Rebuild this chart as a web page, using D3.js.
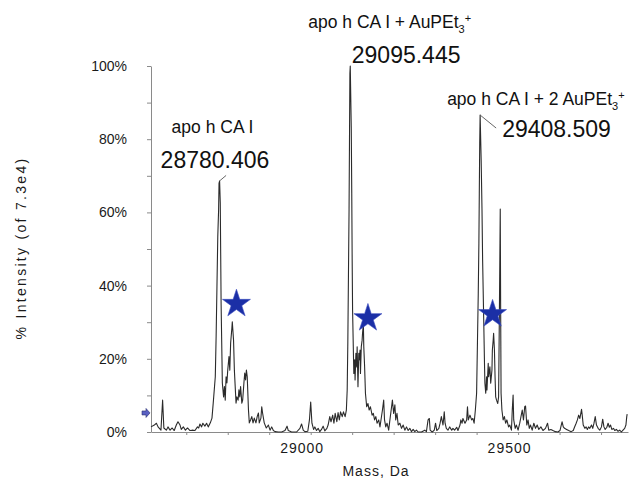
<!DOCTYPE html>
<html>
<head>
<meta charset="utf-8">
<script src="https://cdn.jsdelivr.net/npm/d3@7"></script>
<style>
  html, body { margin: 0; padding: 0; background: #fff; }
  svg { display: block; font-family: "Liberation Sans", Arial, Helvetica, sans-serif; }
</style>
</head>
<body>
<div id="chart"></div>
<script>
// deconvoluted spectrum, [mass (Da), % intensity]
const spectrum = [
  [28615, 1.4], [28623, 1.9], [28628, 2.4], [28632, 1.4], [28639, 0.5], [28643, 8.7], [28646, 1.1],
  [28652, 0.5], [28656, 1.4], [28661, 0.5], [28666, 1.1], [28671, 0.4], [28676, 1.9], [28680, 2.8],
  [28685, 1.9], [28688, 0.7], [28693, 1.4], [28698, 0.5], [28703, 1.1], [28709, 0.4], [28714, 0.5],
  [28721, 0.4], [28727, 1.4], [28730, 1.1], [28733, 2.2], [28737, 1.4], [28740, 2.4], [28745, 1.6],
  [28749, 2.4], [28753, 1.4], [28758, 2.5], [28762, 3.8], [28765, 7.9], [28770, 15.1], [28772, 26.0],
  [28774, 39.7], [28776, 53.4], [28778, 60.7], [28779, 67.9], [28780.4, 68.6], [28782, 62.6],
  [28783, 48.9], [28784, 35.2], [28786, 20.6], [28787, 13.4], [28790, 9.6], [28792, 12.4], [28794, 8.7],
  [28796, 15.1], [28798, 13.4], [28800, 16.9], [28803, 20.6], [28805, 16.9], [28807, 24.3], [28810, 28.4],
  [28811, 30.1], [28814, 25.1], [28816, 16.9], [28818, 12.4], [28820, 7.9], [28822, 9.6], [28825, 8.7],
  [28827, 11.5], [28829, 9.6], [28831, 12.4], [28834, 7.9], [28836, 8.7], [28839, 13.4], [28841, 16.1],
  [28843, 14.2], [28845, 16.9], [28847, 15.1], [28850, 6.0], [28852, 2.5], [28855, 3.3], [28858, 4.2],
  [28861, 2.5], [28864, 3.8], [28868, 2.5], [28871, 4.2], [28874, 5.2], [28876, 2.5], [28880, 3.8],
  [28882, 6.9], [28884, 5.2], [28888, 2.5], [28893, 1.1], [28898, 1.9], [28902, 0.5], [28906, 1.4],
  [28910, 0.4], [28914, 0.1], [28922, 0], [28930, 0], [28938, 0.4], [28943, 1.6], [28946, 0.4],
  [28954, 0], [28966, 0], [28974, 1.0], [28978, 2.2], [28982, 0.5], [28986, 0.1], [28993, 0.2],
  [28997, 3.3], [29000, 8.2], [29003, 2.4], [29007, 0.7], [29010, 1.4], [29014, 0.4], [29018, 1.0],
  [29022, 0.1], [29026, 0.7], [29030, 1.6], [29034, 0.3], [29039, 1.0], [29042, 1.9], [29046, 4.2],
  [29049, 2.8], [29053, 4.6], [29056, 2.4], [29059, 5.1], [29063, 2.8], [29066, 5.3], [29069, 3.3],
  [29072, 5.5], [29076, 4.2], [29079, 5.5], [29083, 4.2], [29086, 6.0], [29088, 11.5], [29089.5, 24.2],
  [29091, 42.4], [29092.5, 60.7], [29093.5, 78.9], [29094.5, 98.0], [29095.4, 100], [29097.8, 83.4],
  [29099, 65.2], [29100, 47.0], [29101, 33.3], [29103, 21.5], [29104, 16.0], [29106, 19.7], [29107, 14.2],
  [29109, 21.5], [29111, 17.8], [29112, 23.3], [29114, 12.4], [29116, 21.5], [29117, 19.7], [29119, 22.4],
  [29120, 16.0], [29122, 23.3], [29124, 25.1], [29125, 27.0], [29127, 29.5], [29128, 23.3], [29130, 17.8],
  [29132, 10.6], [29135, 6.9], [29138, 7.8], [29141, 6.0], [29144, 6.9], [29148, 4.6], [29151, 5.1],
  [29154, 3.3], [29157, 4.2], [29160, 2.4], [29164, 3.3], [29167, 1.4], [29170, 3.7], [29173, 6.0],
  [29176, 8.7], [29178, 3.3], [29181, 1.4], [29184, 2.4], [29188, 0.5], [29191, 3.3], [29195, 6.9],
  [29197, 8.7], [29200, 5.1], [29203, 7.4], [29205, 3.3], [29208, 5.1], [29211, 1.9], [29215, 2.4],
  [29219, 1.0], [29223, 1.9], [29227, 0.5], [29231, 1.4], [29235, 0.4], [29239, 1.0], [29243, 0.1],
  [29247, 0.7], [29251, 0.1], [29255, 0.5], [29259, 0], [29267, 0], [29275, 0.5], [29279, 0.1],
  [29283, 3.3], [29286, 3.7], [29288, 0.5], [29293, 0], [29298, 0.5], [29301, 2.4], [29304, 0.4],
  [29309, 1.0], [29312, 2.4], [29315, 4.2], [29319, 1.9], [29322, 5.5], [29324, 2.4], [29327, 1.0],
  [29331, 0.5], [29335, 1.4], [29340, 0.5], [29343, 1.0], [29347, 0.5], [29352, 1.3], [29355, 0.4],
  [29360, 1.9], [29362, 3.3], [29365, 2.4], [29367, 3.7], [29372, 2.4], [29376, 3.3], [29378, 6.9],
  [29380, 3.3], [29384, 4.6], [29388, 3.3], [29391, 3.7], [29394, 2.4], [29397, 6.0], [29400, 10.6],
  [29402, 24.2], [29404, 37.9], [29405.5, 51.6], [29406.5, 65.2], [29407.5, 78.9], [29408.5, 86.6],
  [29411, 74.3], [29413, 60.7], [29414.5, 47.0], [29417, 31.5], [29419, 18.8], [29420, 13.3],
  [29422, 10.6], [29424, 15.1], [29425, 11.5], [29428, 18.8], [29429, 15.1], [29432, 17.8], [29434, 13.3],
  [29437, 16.9], [29438, 22.4], [29440, 25.1], [29441, 27.0], [29443, 22.4], [29444.5, 15.1], [29446, 9.6],
  [29448, 8.7], [29451, 7.8], [29453, 9.6], [29455, 33.3], [29457, 60.9], [29458, 33.3], [29459, 10.6],
  [29461, 6.0], [29464, 3.3], [29467, 4.2], [29470, 2.4], [29473, 3.3], [29477, 1.4], [29480, 1.9],
  [29484, 0.5], [29486, 6.0], [29488, 10.1], [29489.5, 3.3], [29493, 1.0], [29496, 1.9], [29500, 0.5],
  [29504, 2.4], [29507, 4.2], [29510, 6.0], [29513, 3.3], [29516, 6.9], [29518, 7.1], [29521, 1.9],
  [29524, 3.3], [29527, 1.0], [29530, 1.9], [29534, 0.5], [29538, 2.4], [29542, 1.0], [29546, 1.9],
  [29550, 0.7], [29555, 1.4], [29560, 0.4], [29566, 1.0], [29571, 2.4], [29574, 0.5], [29579, 0.7],
  [29584, 0.4], [29590, 0.1], [29596, 0], [29601, 0.4], [29606, 2.8], [29609, 1.4], [29612, 1.0],
  [29617, 0.7], [29622, 0.4], [29628, 0.1], [29633, 0.4], [29636, 1.3], [29640, 2.4], [29643, 3.3],
  [29646, 4.6], [29649, 3.7], [29653, 6.2], [29655, 4.2], [29657, 1.9], [29661, 1.0], [29664, 1.4],
  [29667, 0.7], [29670, 1.4], [29673, 1.0], [29677, 1.9], [29680, 1.0], [29683, 2.4], [29686, 4.2],
  [29689, 1.9], [29693, 1.0], [29697, 0.5], [29701, 1.4], [29704, 3.5], [29707, 1.4], [29710, 0.7],
  [29714, 1.3], [29717, 2.4], [29720, 1.3], [29723, 1.9], [29726, 0.7], [29730, 1.0], [29733, 0.4],
  [29737, 0.7], [29741, 0.2], [29745, 0.5], [29749, 0], [29753, 0.5], [29757, 1.0], [29760, 1.9],
  [29762, 4.2], [29763, 4.9]
];

// labelled peaks (apex mass / height)
const peaks = [
  { mass: 28780.406, pct: 68.6, name: "apo h CA I", count: "" },
  { mass: 29095.445, pct: 100, name: "apo h CA I + ", count: "" },
  { mass: 29408.509, pct: 86.6, name: "apo h CA I + 2 ", count: "2" }
];

// star markers over the shoulder peaks
const stars = [
  { mass: 28821, pct: 35.0 },
  { mass: 29138, pct: 31.1 },
  { mass: 29438.5, pct: 32.2 }
];

const yTickValues = [0, 10, 20, 30, 40, 50, 60, 70, 80, 90, 100];
const yLabelled = [0, 20, 40, 60, 80, 100];
const xTickValues = [28700, 28800, 28900, 29000, 29100, 29200, 29300, 29400, 29500, 29600, 29700];
const xLabelled = [29000, 29500];
const thresholdPct = 5.2;

const width = 637, height = 479;

const svg = d3.select("#chart")
  .append("svg")
  .attr("width", width)
  .attr("height", height);

const x = d3.scaleLinear().domain([28615, 29765]).range([151, 628]);
const y = d3.scaleLinear().domain([0, 100]).range([432, 66]);

// y axis
const yAxis = svg.append("g")
  .attr("transform", "translate(151,0)")
  .call(d3.axisLeft(y)
    .tickValues(yTickValues)
    .tickSize(4)
    .tickSizeOuter(0)
    .tickPadding(20)
    .tickFormat(d => yLabelled.includes(d) ? d + "%" : ""));

// x axis
const xAxis = svg.append("g")
  .attr("transform", "translate(0,432)")
  .call(d3.axisBottom(x)
    .tickValues(xTickValues)
    .tickSize(3)
    .tickSizeOuter(0)
    .tickPadding(8)
    .tickFormat(d => xLabelled.includes(d) ? d : ""));

[yAxis, xAxis].forEach(ax => {
  ax.select(".domain").attr("stroke", "#8a8a8a").attr("stroke-width", 1);
  ax.selectAll(".tick line").attr("stroke", "#8a8a8a");
  ax.selectAll(".tick text")
    .attr("fill", "#1a1a1a")
    .style("font-size", "14px");
});
xAxis.selectAll(".tick text").attr("dx", -9).style("letter-spacing", "1px");

// axis titles
svg.append("text")
  .attr("transform", "translate(26,248) rotate(-90)")
  .attr("text-anchor", "middle")
  .style("font-size", "14px")
  .style("letter-spacing", "2.3px")
  .attr("fill", "#1a1a1a")
  .text("% Intensity (of 7.3e4)");

svg.append("text")
  .attr("x", 376)
  .attr("y", 476)
  .attr("text-anchor", "middle")
  .style("font-size", "14px")
  .style("letter-spacing", "1px")
  .attr("fill", "#1a1a1a")
  .text("Mass, Da");

// spectrum trace
const line = d3.line()
  .x(d => x(d[0]))
  .y(d => y(d[1]));

svg.append("path")
  .datum(spectrum)
  .attr("fill", "none")
  .attr("stroke", "#2b2b2b")
  .attr("stroke-width", 1.1)
  .attr("stroke-linejoin", "round")
  .attr("d", line);

// threshold arrow on the y axis
svg.append("path")
  .attr("transform", `translate(150,${y(thresholdPct)})`)
  .attr("d", "M-8,-2L-4,-2L-4,-4.5L0,0L-4,4.5L-4,2L-8,2Z")
  .attr("fill", "#5a60c2")
  .attr("stroke", "#2a2f70")
  .attr("stroke-width", 0.6);

// stars
svg.append("g")
  .selectAll("path")
  .data(stars)
  .enter()
  .append("path")
  .attr("transform", d => `translate(${x(d.mass)},${y(d.pct)})`)
  .attr("d", d3.symbol().type(d3.symbolStar).size(243))
  .attr("fill", "#1b2fa6")
  .attr("stroke", "#3a4cc0")
  .attr("stroke-width", 0.6);

// peak annotations (offsets from the apex, px)
const layout = [
  { nx: -48, ny: -48, mx: -59, my: -12.5, lead: [6.5, -5.5] },
  { nx: -42, ny: -38, mx: 1.5, my: -3, lead: null },
  { nx: -33, ny: -10, mx: 22, my: 22, lead: [16, 13] }
];

const ann = svg.append("g").attr("fill", "#111");

peaks.forEach((p, i) => {
  const px = x(p.mass), py = y(p.pct), L = layout[i];

  if (L.lead) {
    ann.append("line")
      .attr("x1", px).attr("y1", py)
      .attr("x2", px + L.lead[0]).attr("y2", py + L.lead[1])
      .attr("stroke", "#555").attr("stroke-width", 0.9);
  }

  const name = ann.append("text")
    .attr("x", px + L.nx)
    .attr("y", py + L.ny)
    .style("font-size", "17.5px");
  name.append("tspan").text(p.name);
  if (i > 0) {
    name.append("tspan").text("AuPEt");
    name.append("tspan").attr("dy", 5).style("font-size", "11px").text("3");
    name.append("tspan").attr("dy", -11).style("font-size", "11px").text("+");
  }

  ann.append("text")
    .attr("x", px + L.mx)
    .attr("y", py + L.my)
    .style("font-size", "23px")
    .text(p.mass.toFixed(3));
});
</script>
</body>
</html>
